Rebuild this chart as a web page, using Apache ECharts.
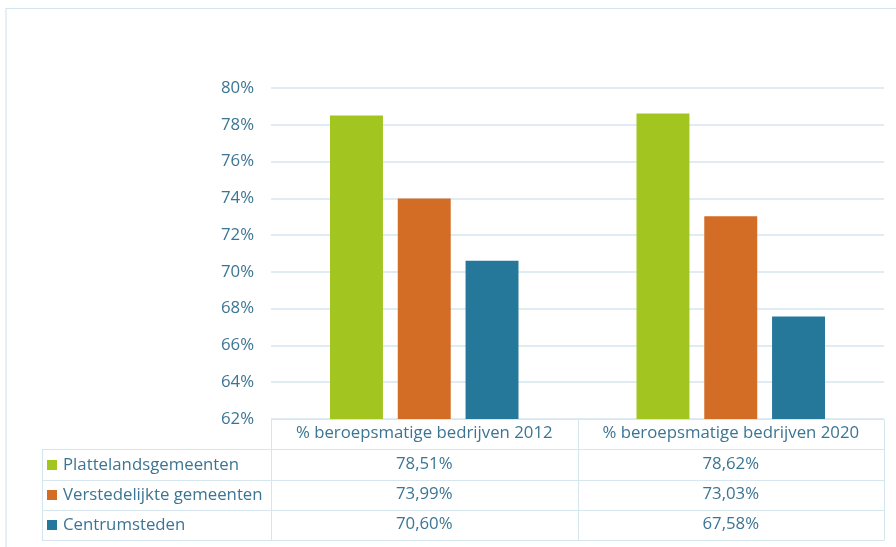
<!DOCTYPE html>
<html>
<head>
<meta charset="utf-8">
<script src="https://cdn.jsdelivr.net/npm/echarts@6/dist/echarts.min.js"></script>
<style>
html,body{margin:0;padding:0;background:#fff;}
#c{width:896px;height:547px;}
</style>
</head>
<body>
<div id="c"></div>
<script>
var categories = ['% beroepsmatige bedrijven 2012', '% beroepsmatige bedrijven 2020'];
var seriesNames = ['Plattelandsgemeenten', 'Verstedelijkte gemeenten', 'Centrumsteden'];
var plattelands = [78.51, 78.62];
var verstedelijkt = [73.99, 73.03];
var centrumsteden = [70.60, 67.58];
var yTicks = [62, 64, 66, 68, 70, 72, 74, 76, 78, 80];

var colors = ['#A3C51F', '#D36C25', '#26789B'];
var textColor = '#3B7594';
var lineColor = '#D6E6EF';
var font = 'Open Sans';
var fs = 16.8;

var W = 896, H = 547;
var gL = 271, gR = 884, gT = 88, gB = 419;
var rowH = 30.3;
var tableLeft = 42;

function fmt(v){ return v.toFixed(2).replace('.', ',') + '%'; }

var allSeries = [plattelands, verstedelijkt, centrumsteden];

var xAxes = [{
  type: 'category', data: categories, gridIndex: 0,
  axisLine: {show: false}, axisTick: {show: false},
  axisLabel: {color: textColor, fontSize: fs, fontFamily: font, margin: 6, interval: 0}
}];
allSeries.forEach(function(arr, k){
  xAxes.push({
    type: 'category', data: categories, gridIndex: 0, position: 'bottom',
    offset: rowH * (k + 1),
    axisLine: {show: false}, axisTick: {show: false}, splitLine: {show: false},
    axisLabel: {color: textColor, fontSize: fs, fontFamily: font, margin: 6, interval: 0,
      formatter: function(v, i){ return fmt(arr[i]); }}
  });
});

var graphics = [];
graphics.push({type:'rect', shape:{x:6, y:8.5, width:W+10, height:H+10}, style:{fill:'none', stroke:'#D5E5F0', lineWidth:1.2}, silent:true});
var yTop = gB;
for (var r = 0; r <= 4; r++) {
  var y = Math.round(yTop + rowH * r) + 0.5;
  var x0 = r === 0 ? gL : tableLeft;
  graphics.push({type:'line', shape:{x1:x0, y1:y, x2:gR, y2:y}, style:{stroke:lineColor, lineWidth:1}, silent:true});
}
var yBot = Math.round(yTop + rowH * 4) + 0.5;
var mid = (gL + gR) / 2;
[[tableLeft, yTop + rowH], [gL, yTop], [mid, yTop], [gR, yTop]].forEach(function(p){
  var x = Math.round(p[0]) + 0.5;
  graphics.push({type:'line', shape:{x1:x, y1:Math.round(p[1])+0.5, x2:x, y2:yBot}, style:{stroke:lineColor, lineWidth:1}, silent:true});
});

var option = {
  backgroundColor: '#fff',
  animation: false,
  color: colors,
  grid: {left: gL, right: W - gR, top: gT, bottom: H - gB, containLabel: false},
  legend: {
    orient: 'vertical', left: 42, top: 450,
    itemWidth: 10, itemHeight: 10, itemGap: 10,
    icon: 'rect',
    textStyle: {color: textColor, fontSize: fs, fontFamily: font, lineHeight: 20, padding: [0,0,0,1]},
    data: seriesNames
  },
  xAxis: xAxes,
  yAxis: {
    type: 'value', min: yTicks[0], max: yTicks[yTicks.length-1], interval: 2,
    axisLine: {show: false}, axisTick: {show: false},
    axisLabel: {color: textColor, fontSize: fs, fontFamily: font, margin: 17, formatter: function(v){ return v + '%'; }},
    splitLine: {lineStyle: {color: lineColor, width: 1.5}}
  },
  series: allSeries.map(function(arr, k){
    return {
      name: seriesNames[k], type: 'bar', data: arr, xAxisIndex: 0,
      barGap: '28%', barCategoryGap: '38.5%',
      itemStyle: {color: colors[k]}
    };
  }),
  graphic: graphics
};

var chart = echarts.init(document.getElementById('c'), null, {renderer: 'canvas'});
chart.setOption(option);
</script>
</body>
</html>
